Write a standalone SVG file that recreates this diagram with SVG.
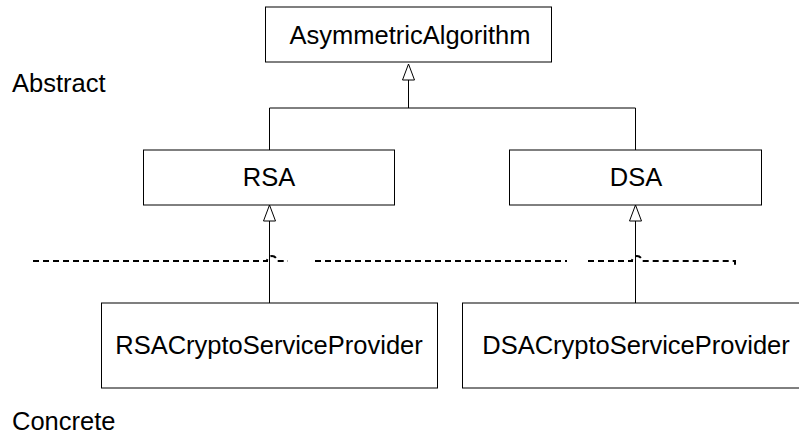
<svg xmlns="http://www.w3.org/2000/svg" width="799" height="436" viewBox="0 0 799 436">
  <style>
    .box { fill: #ffffff; stroke: #000000; stroke-width: 1; }
    .label { font-family: "Liberation Sans", Arial, sans-serif; font-size: 25.5px; fill: #000000; }
    .mid { text-anchor: middle; }
    .link { fill: none; stroke: #000000; stroke-width: 1; }
    .boundary { fill: none; stroke: #000000; stroke-width: 2; stroke-dasharray: 6 4; }
  </style>
  <defs>
    <!-- hollow triangle for generalisation -->
    <marker id="inherit" markerUnits="userSpaceOnUse" markerWidth="20" markerHeight="16" viewBox="-18 -8 20 16" refX="0" refY="0" orient="auto" overflow="visible">
      <path d="M0,0 L-16,-6 L-16,6 Z" fill="#ffffff" stroke="#000000" stroke-width="1"/>
    </marker>
  </defs>
  <rect width="799" height="436" fill="#ffffff"/>

  <!-- layer labels -->
  <text class="label" x="12" y="92">Abstract</text>
  <text class="label" x="12" y="430">Concrete</text>

  <!-- abstract / concrete boundary -->
  <g id="boundary">
    <path class="boundary" d="M33,261 H267 A5,5 0 0 1 277,261 H288"/>
    <path class="boundary" d="M315,261 H567"/>
    <path class="boundary" d="M588,261 H632 A5,5 0 0 1 642,261 H735 V266"/>
  </g>

  <g id="connectors">
    <path class="link" d="M269.5,150 V108 H635.5 V150"/>
    <path class="link" d="M408.5,108 V64" marker-end="url(#inherit)"/>
    <path class="link" d="M269.5,303 V205" marker-end="url(#inherit)"/>
    <path class="link" d="M635.5,303 V205" marker-end="url(#inherit)"/>
  </g>

  <g id="AsymmetricAlgorithm">
    <rect class="box" x="265.5" y="7" width="286" height="55"/>
    <text class="label mid" x="410" y="43.5">AsymmetricAlgorithm</text>
  </g>
  <g id="RSA">
    <rect class="box" x="143.5" y="150" width="251" height="55"/>
    <text class="label mid" x="269" y="186">RSA</text>
  </g>
  <g id="DSA">
    <rect class="box" x="509.5" y="150" width="252" height="55"/>
    <text class="label mid" x="636" y="186">DSA</text>
  </g>
  <g id="RSACryptoServiceProvider">
    <rect class="box" x="101.5" y="303" width="336" height="85"/>
    <text class="label mid" x="269" y="354">RSACryptoServiceProvider</text>
  </g>
  <g id="DSACryptoServiceProvider">
    <rect class="box" x="462.5" y="303" width="348" height="85"/>
    <text class="label mid" x="636" y="354">DSACryptoServiceProvider</text>
  </g>
</svg>
